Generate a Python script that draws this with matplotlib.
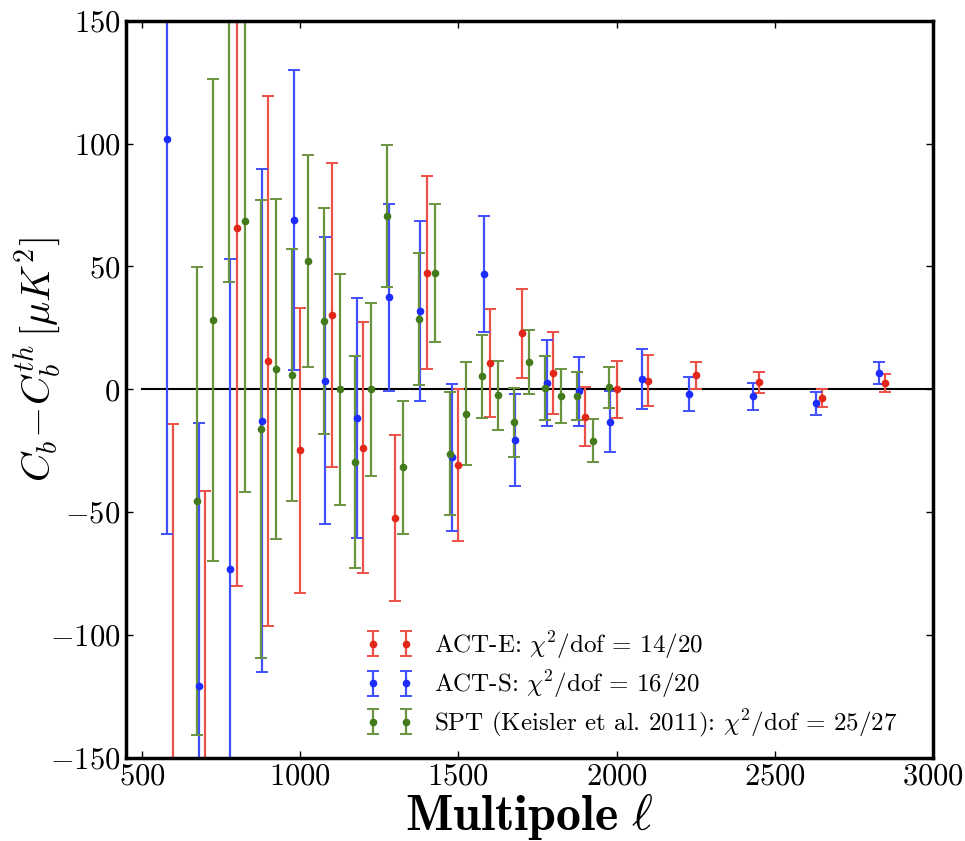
import numpy as np
import matplotlib

matplotlib.use("Agg")
import matplotlib.pyplot as plt

# ACT-E band powers (residuals w.r.t. best-fit theory)
act_e_ell = [600, 700, 800, 900, 1000, 1100, 1200, 1300, 1400, 1500, 1600, 1700,
             1800, 1900, 2000, 2100, 2250, 2450, 2650, 2850]
act_e_val = [-170.0, -190.0, 65.6, 11.6, -24.8, 30.1, -23.7, -52.4, 47.4, -30.9,
             10.8, 22.8, 6.6, -11.1, 0.0, 3.5, 5.7, 2.8, -3.4, 2.7]
act_e_err = [156.0, 148.5, 145.5, 107.7, 58.0, 61.8, 51.0, 33.7, 39.3, 31.0,
             22.0, 18.0, 16.7, 12.0, 11.7, 10.3, 5.4, 4.3, 3.7, 3.7]

# ACT-S band powers
act_s_ell = [580, 680, 780, 880, 980, 1080, 1180, 1280, 1380, 1480, 1580, 1680,
             1780, 1880, 1980, 2080, 2230, 2430, 2630, 2830]
act_s_val = [101.7, -120.8, -73.0, -12.8, 68.9, 3.5, -11.7, 37.4, 31.9, -27.7,
             46.9, -20.7, 2.4, -0.8, -13.2, 4.2, -1.9, -2.9, -5.7, 6.6]
act_s_err = [160.6, 107.0, 126.0, 102.4, 61.0, 58.3, 48.8, 38.0, 36.6, 30.0,
             23.7, 18.7, 17.5, 14.0, 12.4, 12.3, 6.8, 5.6, 4.8, 4.5]

# SPT band powers (Keisler et al. 2011)
spt_ell = [675, 725, 775, 825, 875, 925, 975, 1025, 1075, 1125, 1175, 1225, 1275,
           1325, 1375, 1425, 1475, 1525, 1575, 1625, 1675, 1725, 1775, 1825,
           1875, 1925, 1975]
spt_val = [-45.3, 28.2, 160.0, 68.5, -16.2, 8.3, 5.8, 52.2, 27.7, 0.0, -29.6, 0.0,
           70.6, -31.7, 28.6, 47.3, -26.2, -9.9, 5.3, -2.4, -13.4, 11.1, 0.7,
           -2.8, -2.8, -20.9, 0.8]
spt_err = [95.2, 98.0, 116.4, 110.3, 93.2, 69.0, 51.2, 43.0, 46.0, 47.0, 43.0,
           35.1, 29.0, 27.0, 27.0, 28.0, 25.0, 21.0, 17.0, 14.0, 14.0, 13.0,
           13.0, 11.0, 9.8, 8.7, 8.2]

labels = [
    r"ACT-E: $\chi^2$/dof = 14/20",
    r"ACT-S: $\chi^2$/dof = 16/20",
    r"SPT (Keisler et al. 2011): $\chi^2$/dof = 25/27",
]

plt.rcParams["font.family"] = "serif"
plt.rcParams["font.serif"] = ["cmr10"]
plt.rcParams["mathtext.fontset"] = "cm"
plt.rcParams["axes.formatter.use_mathtext"] = True
plt.rcParams["axes.unicode_minus"] = True

fig = plt.figure(figsize=(9.65, 8.41), dpi=100)
ax = fig.add_axes([0.1306, 0.0987, 0.8362, 0.8767])

series = [
    (act_e_ell, act_e_val, act_e_err, "#e3261a", "#ec5046"),
    (act_s_ell, act_s_val, act_s_err, "#1c2cff", "#4050ff"),
    (spt_ell, spt_val, spt_err, "#437a1c", "#6a9340"),
]
for (ell, val, err, c, ec), lab in zip(series, labels):
    ax.errorbar(ell, val, yerr=err, fmt="o", color=c, mec=c, ecolor=ec,
                ms=4.5, elinewidth=1.6, capsize=4.5, capthick=1.4, label=lab)

ax.plot([500, 3000], [0, 0], color="k", lw=1.5, zorder=1)

ax.set_xlim(450, 3000)
ax.set_ylim(-150, 150)
ax.set_xticks(np.arange(500, 3001, 500))
ax.set_yticks(np.arange(-150, 151, 50))
ax.tick_params(direction="in", top=True, right=True, length=5, width=1,
               labelsize=22, pad=4)
for sp in ax.spines.values():
    sp.set_linewidth(2.5)

ax.set_xlabel(r"$\mathbf{Multipole}\ \ell$", fontsize=36, labelpad=0)
ax.set_ylabel(r"$C_b\!-\!C_b^{th}\,[\mu K^2]$", fontsize=29)
ax.yaxis.set_label_coords(-0.078, 0.54)

ax.legend(loc="lower left", bbox_to_anchor=(0.269, -0.005), numpoints=2,
          frameon=False, fontsize=18, handlelength=1.9, labelspacing=0.3,
          handletextpad=0.85)

fig.savefig("out.png", dpi=100)
